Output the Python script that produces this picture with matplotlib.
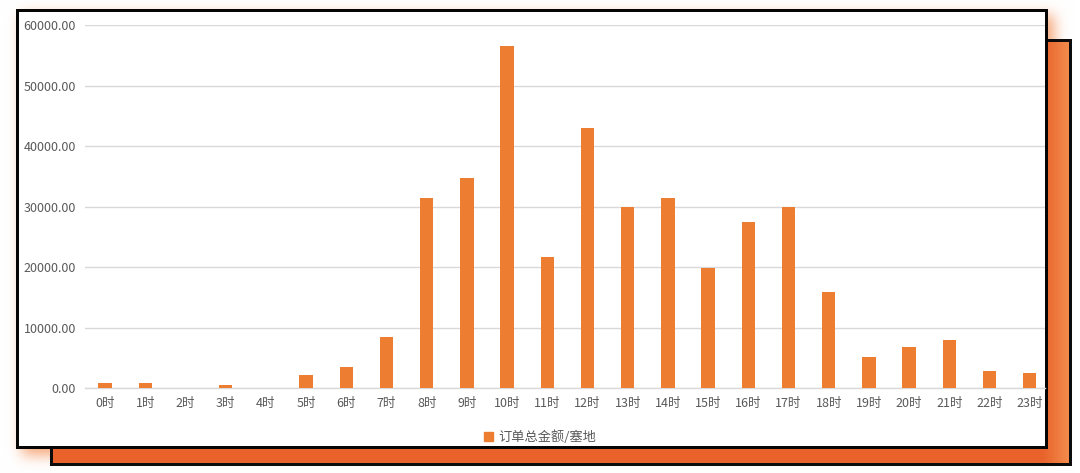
import numpy as np
import matplotlib
matplotlib.use("Agg")
import matplotlib.pyplot as plt
from matplotlib.patches import Patch

plt.rcParams['font.family'] = ['Noto Sans CJK SC', 'DejaVu Sans']

# ---- data ----
hours = [f"{h}时" for h in range(24)]
values = [800, 800, 0, 500, 0, 2150, 3500, 8400, 31400, 34700, 56500, 21700,
          43000, 29900, 31400, 19800, 27400, 29900, 15900, 5100, 6800, 7900,
          2800, 2500]
series_name = "订单总金额/塞地"
y_ticks = [0, 10000, 20000, 30000, 40000, 50000, 60000]

W, H = 1080, 473
fig = plt.figure(figsize=(W / 100, H / 100), dpi=100)

# ---- decorative background (pixel based) ----
def gauss_blur(a, sigma):
    r = int(3 * sigma)
    x = np.arange(-r, r + 1)
    k = np.exp(-x**2 / (2 * sigma**2))
    k /= k.sum()
    a = np.apply_along_axis(lambda m: np.convolve(m, k, mode='same'), 0, a)
    a = np.apply_along_axis(lambda m: np.convolve(m, k, mode='same'), 1, a)
    return a

img = np.ones((H, W, 3))
yy, xx = np.mgrid[0:H, 0:W]

# white box and orange box extents (pixels)
wx0, wx1, wy0, wy1 = 16, 1048, 10, 449
ox0, ox1, oy0, oy1 = 50, 1072, 40, 466

# soft orange shadow of white box
mask = ((xx >= wx0 + 6) & (xx < wx1 + 6) & (yy >= wy0 + 6) & (yy < wy1 + 6)).astype(float)
sh = gauss_blur(mask, 7.0) * 0.85
sh_col = np.array([244, 150, 95]) / 255
img = img * (1 - sh[..., None]) + sh_col * sh[..., None]

# orange box with gradient
base = np.array([233, 98, 43]) / 255
light = np.array([243, 142, 78]) / 255
t = np.clip((xx - (ox1 - 30)) / 28.0, 0, 1)
grad = base * (1 - t[..., None]) + light * t[..., None]
inner = (xx >= ox0) & (xx < ox1) & (yy >= oy0) & (yy < oy1)
img[inner] = grad[inner]
bw = 3
border_o = inner & ~((xx >= ox0 + bw) & (xx < ox1 - bw) & (yy >= oy0 + bw) & (yy < oy1 - bw))
img[border_o] = 0.05

# white box
winner = (xx >= wx0) & (xx < wx1) & (yy >= wy0) & (yy < wy1)
img[winner] = 1.0
border_w = winner & ~((xx >= wx0 + bw) & (xx < wx1 - bw) & (yy >= wy0 + bw) & (yy < wy1 - bw))
img[border_w] = 0.02

bg = fig.add_axes([0, 0, 1, 1], zorder=0)
bg.imshow(img, extent=[0, W, H, 0], interpolation='nearest', aspect='auto')
bg.set_xlim(0, W)
bg.set_ylim(H, 0)
bg.axis('off')

# ---- main chart ----
ax_l, ax_r, ax_t, ax_b = 85, 1045, 25, 388.3
ax = fig.add_axes([ax_l / W, 1 - ax_b / H, (ax_r - ax_l) / W, (ax_b - ax_t) / H], zorder=2)
ax.patch.set_alpha(0)
x = np.arange(len(hours))
bar_color = '#ED7D31'
ax.bar(x, values, width=0.33, color=bar_color, zorder=3)
ax.set_xlim(-0.5, -0.5 + (ax_r - ax_l) / 40.2)
ax.set_ylim(0, 60000)
ax.set_yticks(y_ticks)
ax.set_yticklabels([f"{v:.2f}" for v in y_ticks])
ax.set_xticks(x)
ax.set_xticklabels(hours)
ax.grid(axis='y', color='#D9D9D9', linewidth=1.0, zorder=0)
ax.set_axisbelow(True)
for s in ['top', 'right', 'left']:
    ax.spines[s].set_visible(False)
ax.spines['bottom'].set_color('#D9D9D9')
ax.spines['bottom'].set_linewidth(1.0)
ax.tick_params(axis='both', length=0, colors='#595959', labelsize=9)
ax.tick_params(axis='y', pad=6.5)
ax.tick_params(axis='x', pad=6)

leg = fig.legend(handles=[Patch(color=bar_color, label=series_name)],
                 loc='center', bbox_to_anchor=(540 / W, 1 - 437 / H),
                 frameon=False, fontsize=9.5, handlelength=0.65, handleheight=0.65,
                 handletextpad=0.4, labelcolor='#595959')
leg.set_zorder(3)

fig.savefig('out.png', dpi=100)
